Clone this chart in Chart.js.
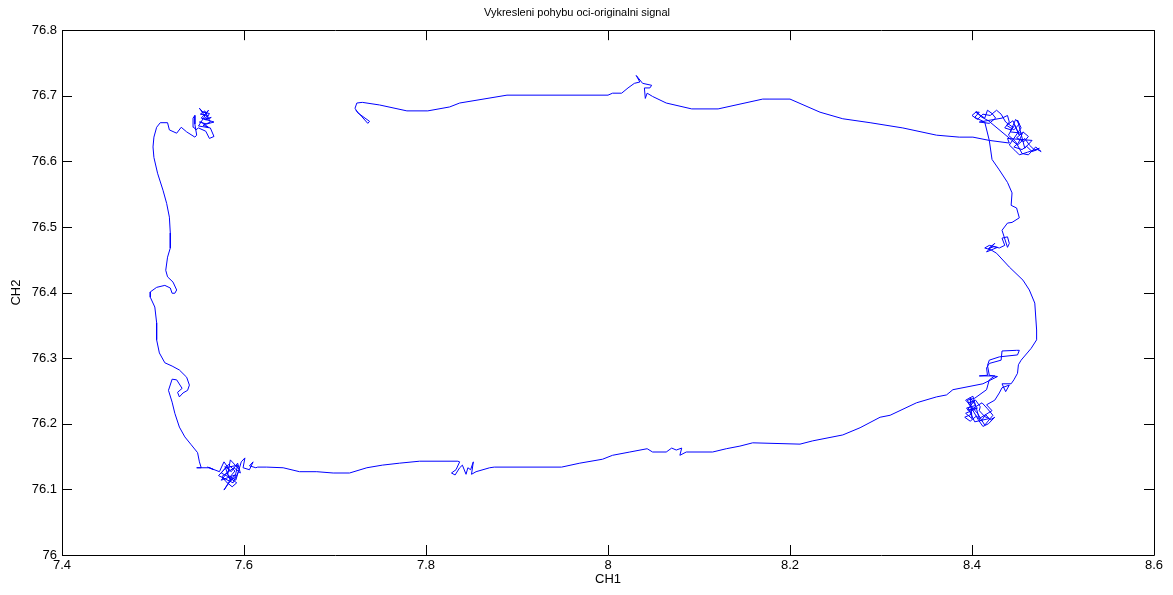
<!DOCTYPE html>
<html>
<head>
<meta charset="utf-8">
<script src="https://cdn.jsdelivr.net/npm/chart.js@4/dist/chart.umd.min.js"></script>
<style>
  html, body { margin: 0; padding: 0; background: #ffffff; }
  #wrap { width: 1173px; height: 595px; }
</style>
</head>
<body>
<div id="wrap"><canvas id="c" width="1173" height="595"></canvas></div>
<script>
// ---- Data (CH1, CH2), in path order ----
const titleText = "Vykresleni pohybu oci-originalni signal";
const xTitle = "CH1";
const yTitle = "CH2";
const xTickValues = [7.4, 7.6, 7.8, 8.0, 8.2, 8.4, 8.6];
const yTickValues = [76.0, 76.1, 76.2, 76.3, 76.4, 76.5, 76.6, 76.7, 76.8];

const topLeftCluster = [
  [7.557,76.669],[7.551,76.681],[7.555,76.675],[7.562,76.673],[7.558,76.663],[7.564,76.667],
  [7.556,76.664],[7.560,76.670],[7.552,76.672],[7.557,76.677],[7.563,76.660],[7.555,76.655],
  [7.561,76.652],[7.553,76.660],
  [7.551,76.660],[7.559,76.657],[7.567,76.660],[7.553,76.666],[7.561,76.678],[7.550,76.654],
  [7.563,76.651],[7.567,76.638],[7.562,76.635],[7.558,76.646],[7.550,76.651],[7.547,76.648],
  [7.545,76.652],[7.544,76.666],[7.546,76.670],[7.546,76.657],[7.548,76.640],[7.546,76.637]
];
const leftSide = [
  [7.537,76.645],[7.531,76.652],[7.526,76.643],[7.518,76.648],[7.516,76.659],[7.508,76.659],
  [7.504,76.652],[7.501,76.637],[7.500,76.622],[7.501,76.606],[7.505,76.582],[7.511,76.556],
  [7.515,76.536],[7.518,76.515],[7.519,76.491],[7.519,76.468],[7.516,76.454],[7.514,76.434],
  [7.516,76.424],[7.522,76.416],[7.526,76.404],[7.524,76.399],[7.521,76.399],[7.519,76.407],
  [7.513,76.411],[7.504,76.408],[7.497,76.401],[7.497,76.393],[7.502,76.378],[7.504,76.354],
  [7.504,76.328],[7.507,76.308],[7.513,76.293],[7.521,76.288],[7.529,76.282],[7.537,76.271],
  [7.540,76.259],[7.538,76.251],[7.533,76.247],[7.529,76.241],[7.527,76.248],[7.532,76.254],
  [7.526,76.267],[7.521,76.268],[7.517,76.251],[7.521,76.233],[7.524,76.216],[7.529,76.195],
  [7.535,76.180],[7.542,76.168],[7.549,76.156],[7.551,76.142],[7.553,76.133]
];
const bottomLeftCluster = [
  [7.548,76.133],[7.562,76.133],[7.567,76.130],[7.560,76.134],[7.573,76.127],[7.578,76.142],
  [7.584,76.130],[7.575,76.114],[7.590,76.122],[7.582,76.107],[7.578,76.099],[7.586,76.117],
  [7.575,76.125],[7.583,76.138],[7.590,76.128],[7.584,76.118],[7.592,76.110],[7.587,76.104],
  [7.580,76.112],[7.576,76.120],[7.589,76.133],[7.596,76.125],[7.593,76.140],[7.586,76.127],
  [7.579,76.135],[7.585,76.113],[7.590,76.118],
  [7.593,76.137],[7.580,76.133],[7.572,76.121],[7.588,76.110],[7.595,76.130],[7.585,76.145],
  [7.582,76.122],[7.591,76.114],[7.597,76.142],[7.601,76.148],[7.599,76.133],[7.606,76.130],
  [7.610,76.142],[7.606,76.136],[7.613,76.133]
];
const bottomSideA = [
  [7.615,76.134],[7.625,76.134],[7.643,76.133],[7.661,76.127],[7.680,76.127],[7.698,76.125],
  [7.716,76.125],[7.735,76.133],[7.752,76.137],[7.771,76.140],[7.793,76.143],[7.835,76.143]
];
const bottomMidCluster = [
  [7.837,76.142],[7.833,76.130],[7.828,76.125],[7.832,76.122],[7.837,76.133],[7.840,76.137],
  [7.844,76.123],[7.846,76.133],[7.849,76.130],[7.852,76.142],[7.850,76.123],[7.855,76.127]
];
const bottomSideB = [
  [7.870,76.133],[7.875,76.134],[7.949,76.134],[7.969,76.140],[7.994,76.146],[8.005,76.152],
  [8.024,76.157],[8.043,76.162],[8.049,76.157],[8.064,76.157],[8.070,76.163],[8.075,76.160],
  [8.081,76.163],[8.079,76.152],[8.086,76.157],[8.115,76.157],[8.130,76.162],[8.145,76.166],
  [8.159,76.171],[8.211,76.169],[8.225,76.174],[8.258,76.183],[8.277,76.194],[8.299,76.210],
  [8.310,76.213],[8.339,76.232],[8.361,76.241],[8.372,76.244],[8.379,76.252],[8.412,76.261],
  [8.428,76.272]
];
const rightLowLoop = [
  [8.419,76.274],[8.417,76.289],[8.419,76.297],[8.430,76.302],[8.450,76.305],[8.452,76.312],
  [8.449,76.312],[8.433,76.311],[8.432,76.297],[8.419,76.292],[8.416,76.285],[8.417,76.274],
  [8.408,76.273],[8.425,76.273],[8.419,76.267],[8.416,76.252],[8.403,76.239],[8.395,76.236]
];
const bottomRightCluster = [
  [8.397,76.229],[8.403,76.236],[8.395,76.221],[8.406,76.224],[8.393,76.216],[8.400,76.208],
  [8.398,76.240],[8.404,76.228],[8.394,76.224],[8.400,76.215],[8.392,76.210],[8.398,76.204],
  [8.405,76.212],[8.410,76.204],[8.415,76.214],[8.420,76.206],[8.425,76.210],[8.418,76.200],
  [8.412,76.196],[8.407,76.206],[8.402,76.218],[8.396,76.232],[8.404,76.236],[8.409,76.226],
  [8.408,76.220],[8.414,76.211],[8.419,76.208],[8.403,76.203],[8.397,76.220],[8.411,76.232],
  [8.417,76.223],[8.423,76.213],[8.414,76.198],[8.406,76.216],[8.393,76.236],[8.401,76.242],
  [8.408,76.208],[8.422,76.220],[8.416,76.229]
];
const rightSide = [
  [8.425,76.236],[8.430,76.247],[8.433,76.255],[8.441,76.259],[8.437,76.249],[8.433,76.261],
  [8.443,76.261],[8.446,76.267],[8.450,76.277],[8.451,76.290],[8.454,76.297],[8.465,76.315],
  [8.471,76.328],[8.471,76.343],[8.469,76.384],[8.463,76.404],[8.456,76.419],[8.441,76.439],
  [8.427,76.460]
];
const rightMidCluster = [
  [8.421,76.465],[8.414,76.468],[8.419,76.472],[8.428,76.469],[8.416,76.462],[8.425,76.475],
  [8.418,76.467],[8.424,76.470],[8.430,76.468],[8.436,76.472],[8.433,76.483],[8.439,76.485],
  [8.441,76.475],[8.439,76.469],
  [8.433,76.495],[8.439,76.506],[8.444,76.507],[8.452,76.514],[8.449,76.529],[8.443,76.533],
  [8.444,76.552],[8.439,76.568],[8.430,76.587],[8.422,76.603]
];
const topRightCluster = [
  [8.419,76.632],[8.414,76.660],[8.403,76.667],[8.408,76.675],[8.404,76.675],[8.414,76.666],
  [8.417,76.678],[8.422,76.673],[8.426,76.666],[8.419,76.658],[8.408,76.660],[8.433,76.666],
  [8.439,76.670],[8.441,76.660],[8.436,76.651],[8.443,76.648],[8.447,76.655],[8.452,76.640],
  [8.445,76.662],[8.438,76.655],[8.446,76.648],[8.452,76.657],[8.448,76.664],[8.442,76.645],
  [8.455,76.643],[8.449,76.636],[8.457,76.630],[8.462,76.638],[8.456,76.645],[8.451,76.628],
  [8.446,76.622],[8.455,76.618],[8.460,76.623],[8.466,76.615],[8.472,76.618],[8.476,76.615],
  [8.470,76.622],[8.462,76.610],[8.455,76.612],[8.448,76.630],[8.440,76.640],[8.445,76.652],
  [8.437,76.660],[8.432,76.672],[8.427,76.678],[8.420,76.670],[8.412,76.672],[8.406,76.664],
  [8.400,76.670],[8.405,76.676],[8.410,76.668],[8.418,76.662],
  [8.444,76.632],[8.450,76.625],[8.458,76.635],[8.463,76.625],[8.469,76.617],[8.474,76.620],
  [8.461,76.614],[8.452,76.610],[8.447,76.617],[8.441,76.625],[8.454,76.651],[8.450,76.663],
  [8.458,76.620],[8.466,76.632],[8.439,76.635],[8.441,76.628]
];
const topSide = [
  [8.419,76.632],[8.401,76.637],[8.386,76.637],[8.361,76.640],[8.324,76.651],[8.288,76.659],
  [8.258,76.665],[8.233,76.675],[8.200,76.695],[8.178,76.695],[8.170,76.695],[8.121,76.680],
  [8.092,76.680],[8.064,76.689],[8.049,76.699],[8.043,76.704],[8.041,76.696],[8.040,76.712],
  [8.046,76.712],[8.048,76.716],[8.038,76.719],[8.031,76.731],[8.035,76.721],[8.029,76.719],
  [8.022,76.712],[8.015,76.704],[8.005,76.704],[8.000,76.701],[7.889,76.701],[7.837,76.689],
  [7.826,76.683],[7.802,76.677],[7.779,76.677],[7.749,76.686],[7.730,76.690],[7.724,76.689],
  [7.722,76.681],[7.725,76.674],[7.733,76.666],[7.738,76.661],[7.736,76.658],[7.729,76.669],
  [7.723,76.678]
];

const segments = [topLeftCluster, leftSide, bottomLeftCluster, bottomSideA, bottomMidCluster,
  bottomSideB, rightLowLoop, bottomRightCluster, rightSide, rightMidCluster, topRightCluster, topSide];
const pathPoints = [];
segments.forEach(seg => seg.forEach(p => pathPoints.push({x: p[0], y: p[1]})));

const fmt = v => String(Math.round(v * 10) / 10);

const frameTicks = {
  id: 'frameTicks',
  afterDraw(chart) {
    const {ctx, chartArea: a, scales: {x, y}} = chart;
    ctx.save();
    ctx.strokeStyle = '#000000';
    ctx.lineWidth = 1;
    ctx.beginPath();
    ctx.rect(Math.round(a.left) + 0.5, Math.round(a.top) + 0.5,
             Math.round(a.right - a.left), Math.round(a.bottom - a.top));
    ctx.stroke();
    const L = 10;
    ctx.beginPath();
    x.ticks.forEach(t => {
      const px = Math.round(x.getPixelForValue(t.value)) + 0.5;
      ctx.moveTo(px, a.bottom); ctx.lineTo(px, a.bottom - L);
      ctx.moveTo(px, a.top); ctx.lineTo(px, a.top + L);
    });
    y.ticks.forEach(t => {
      const py = Math.round(y.getPixelForValue(t.value)) + 0.5;
      ctx.moveTo(a.left, py); ctx.lineTo(a.left + L, py);
      ctx.moveTo(a.right, py); ctx.lineTo(a.right - L, py);
    });
    ctx.stroke();
    ctx.restore();
  }
};

const font = {family: "'Liberation Sans', Arial, sans-serif", size: 13};

new Chart(document.getElementById('c'), {
  type: 'scatter',
  data: {
    datasets: [{
      data: pathPoints,
      showLine: true,
      borderColor: '#0000ff',
      borderWidth: 1,
      pointRadius: 0,
      pointHoverRadius: 0,
      tension: 0,
      fill: false
    }]
  },
  options: {
    responsive: false,
    animation: false,
    layout: {padding: {left: 0, right: 19, top: 0, bottom: 0}},
    plugins: {
      legend: {display: false},
      tooltip: {enabled: false},
      title: {
        display: true,
        text: titleText,
        color: '#000000',
        font: {family: font.family, size: 11, weight: 'normal'},
        padding: {top: 6, bottom: 11}
      }
    },
    scales: {
      x: {
        type: 'linear',
        min: 7.4, max: 8.6,
        afterBuildTicks: s => { s.ticks = xTickValues.map(v => ({value: v})); },
        afterFit: s => { s.height = 40; },
        grid: {display: false, drawTicks: false},
        border: {display: false},
        ticks: {color: '#000000', font: font, padding: 3, maxRotation: 0, callback: v => fmt(v)},
        title: {display: true, text: xTitle, color: '#000000', font: font, padding: {top: 0, bottom: 8}}
      },
      y: {
        type: 'linear',
        min: 76.0, max: 76.8,
        afterBuildTicks: s => { s.ticks = yTickValues.map(v => ({value: v})); },
        afterFit: s => { s.width = 62; },
        grid: {display: false, drawTicks: false},
        border: {display: false},
        ticks: {color: '#000000', font: font, padding: 5, callback: v => fmt(v)},
        title: {display: true, text: yTitle, color: '#000000', font: font, padding: {top: 9, bottom: 0}}
      }
    }
  },
  plugins: [frameTicks]
});
</script>
</body>
</html>
